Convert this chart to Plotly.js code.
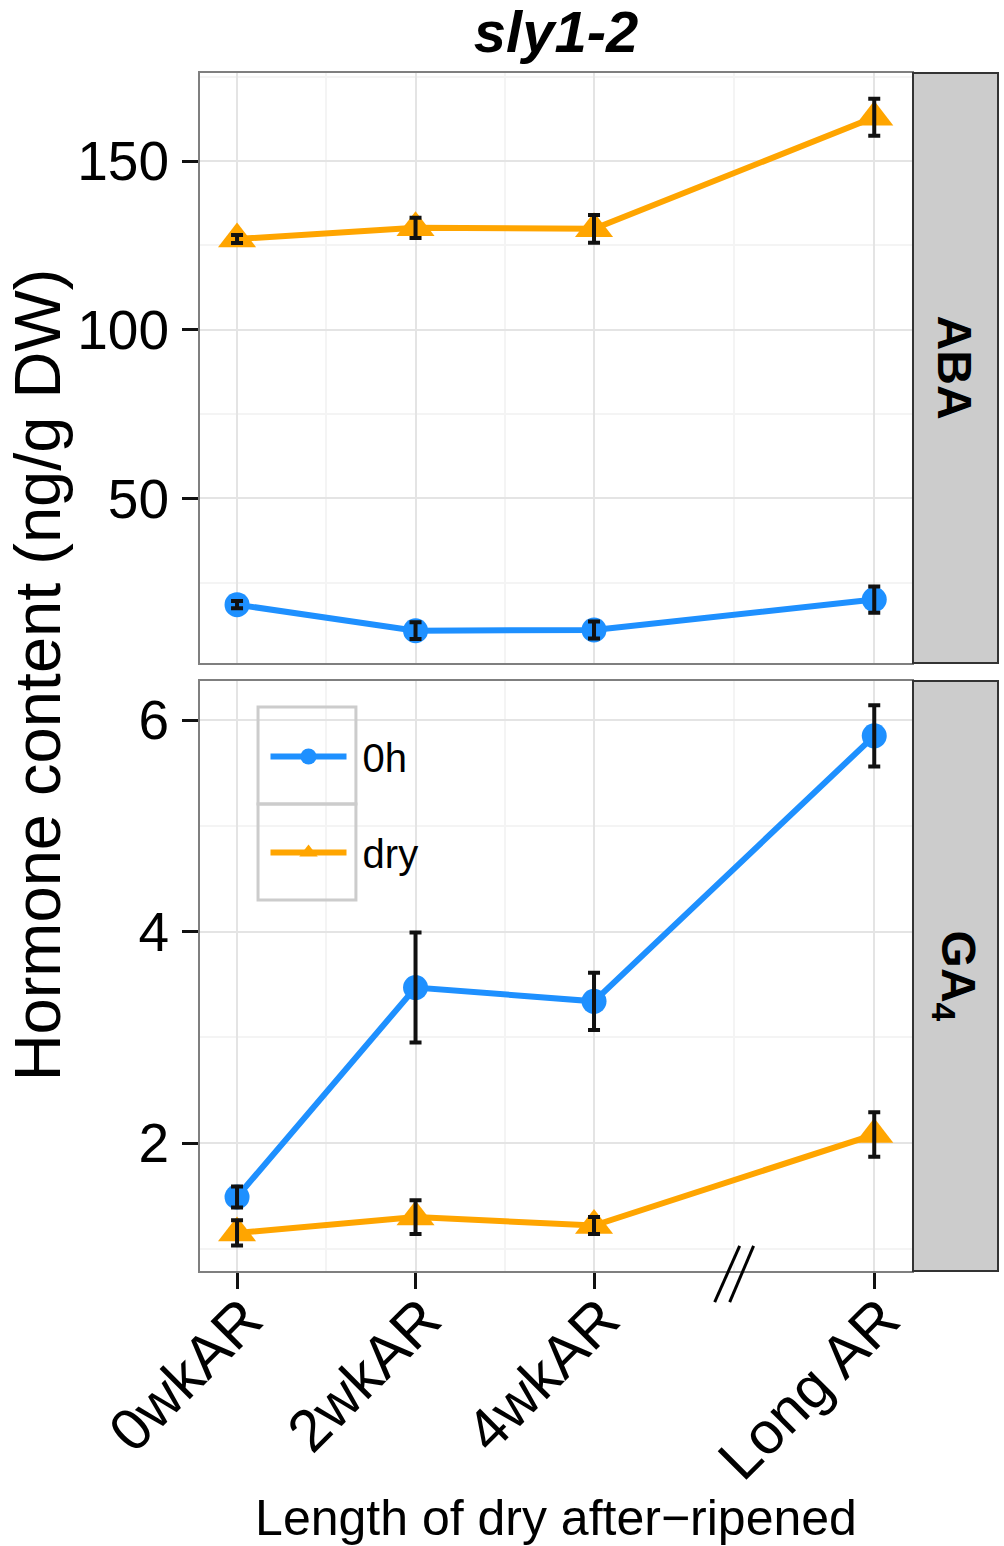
<!DOCTYPE html>
<html>
<head>
<meta charset="utf-8">
<script src="https://cdn.plot.ly/plotly-3.0.1.min.js"></script>
<style>
  html, body { margin: 0; padding: 0; background: #fff; }
  #plot { width: 1004px; height: 1546px; }
</style>
</head>
<body>
<div id="plot"></div>
<script>
// stages on the x axis (Long AR sits past the axis break)
const stages = ["0wkAR", "2wkAR", "4wkAR", "Long AR"];
const stagePos = [0, 2, 4, 7.14];

// ABA (ng/g DW)
const aba0h = [18.5, 10.8, 11.0, 20.0];
const aba0hErr = [1.1, 2.5, 2.5, 3.9];
const abaDry = [126.9, 130.2, 129.9, 163.0];
const abaDryErr = [1.2, 3.0, 4.1, 5.5];

// GA4 (ng/g DW)
const ga0h = [1.49, 3.47, 3.34, 5.85];
const ga0hErr = [0.10, 0.52, 0.27, 0.29];
const gaDry = [1.15, 1.30, 1.22, 2.08];
const gaDryErr = [0.12, 0.16, 0.08, 0.21];

const abaTicks = [50, 100, 150];
const abaMinor = [25, 75, 125, 175];
const gaTicks = [2, 4, 6];
const gaMinor = [1, 3, 5];

const BLUE = "#1E90FF";
const ORANGE = "#FFA500";
const FONT = "Liberation Sans, Arial, sans-serif";
const GRID = "#e4e4e4";
const GRID_MINOR = "#f4f4f4";
const BORDER = "#7f7f7f";

function midpoints(vals) {
  const out = [];
  for (let i = 0; i < vals.length - 1; i++) out.push((vals[i] + vals[i + 1]) / 2);
  return out;
}

function seriesTrace(y, name, color, symbol, size, xa, ya, legend) {
  return {
    x: stagePos, y,
    xaxis: xa, yaxis: ya,
    type: "scatter",
    mode: "lines+markers",
    name: "\u00a0" + name,
    legendgroup: name,
    showlegend: legend,
    line: { color, width: 6 },
    marker: { color, symbol, size },
    hoverinfo: "skip"
  };
}

function errTrace(y, err, xa, ya) {
  return {
    x: stagePos, y,
    xaxis: xa, yaxis: ya,
    type: "scatter",
    mode: "markers",
    marker: { size: 1, opacity: 0 },
    error_y: { type: "data", array: err, visible: true, color: "#111", thickness: 4, width: 6 },
    showlegend: false,
    hoverinfo: "skip"
  };
}

const traces = [
  seriesTrace(aba0h, "0h", BLUE, "circle", 25, "x", "y", false),
  seriesTrace(abaDry, "dry", ORANGE, "triangle-up", 33, "x", "y", false),
  seriesTrace(ga0h, "0h", BLUE, "circle", 25, "x2", "y2", true),
  seriesTrace(gaDry, "dry", ORANGE, "triangle-up", 33, "x2", "y2", true),
  errTrace(aba0h, aba0hErr, "x", "y"),
  errTrace(abaDry, abaDryErr, "x", "y"),
  errTrace(ga0h, ga0hErr, "x2", "y2"),
  errTrace(gaDry, gaDryErr, "x2", "y2")
];

const xMinor = midpoints(stagePos);
const xRange = [-0.415, 7.563];

const baseX = {
  range: xRange,
  tickmode: "array",
  tickvals: stagePos,
  showgrid: true, gridcolor: GRID, gridwidth: 2,
  minor: { tickmode: "array", tickvals: xMinor, showgrid: true, gridcolor: GRID_MINOR, gridwidth: 2, ticks: "" },
  showline: true, mirror: true, linecolor: BORDER, linewidth: 2,
  zeroline: false,
  fixedrange: true
};

function baseY(range, ticks, minor, domain) {
  return {
    domain,
    range,
    tickmode: "array",
    tickvals: ticks,
    ticks: "outside", ticklen: 16, tickwidth: 3, tickcolor: "#111",
    ticklabelstandoff: 2,
    tickfont: { family: FONT, size: 55, color: "#000" },
    showgrid: true, gridcolor: GRID, gridwidth: 2,
    minor: { tickmode: "array", tickvals: minor, showgrid: true, gridcolor: GRID_MINOR, gridwidth: 2, ticks: "" },
    showline: true, mirror: true, linecolor: BORDER, linewidth: 2,
    zeroline: false,
    fixedrange: true
  };
}

// axis break mark "//" between 4wkAR and Long AR
const breakX = (stagePos[2] + stagePos[3]) / 2;
const slashes = [[-0.218, 0.062], [-0.05, 0.218]].map(([a, b]) => ({
  type: "line", xref: "x2", yref: "paper",
  x0: breakX + a, x1: breakX + b, y0: -0.026, y1: 0.021,
  line: { color: "#000", width: 3 }, layer: "above"
}));

function strip(yref) {
  return {
    type: "rect", xref: "paper", yref,
    x0: 1.0014, x1: 1.1208, y0: 0, y1: 1,
    fillcolor: "#cccccc", line: { color: "#333", width: 2 }, layer: "above"
  };
}

function legendBox(y0, y1) {
  return {
    type: "rect", xref: "x2 domain", yref: "y2 domain",
    x0: 0.0815, x1: 0.219, y0, y1,
    fillcolor: "rgba(0,0,0,0)", line: { color: "#cccccc", width: 3 }, layer: "above"
  };
}

const layout = {
  width: 1004,
  height: 1546,
  margin: { l: 200, r: 92, t: 73, b: 275 },
  paper_bgcolor: "#fff",
  plot_bgcolor: "#fff",
  font: { family: FONT, color: "#000" },
  title: {
    text: "<b><i>sly1-2</i></b>",
    font: { family: FONT, size: 58, color: "#000" },
    xref: "paper", x: 0.5, xanchor: "center",
    y: 1 - 32 / 1546, yanchor: "middle"
  },
  xaxis: Object.assign({}, baseX, { anchor: "y", showticklabels: false, ticks: "" }),
  xaxis2: Object.assign({}, baseX, {
    anchor: "y2", matches: "x",
    ticktext: stages,
    tickangle: -45,
    ticks: "outside", ticklen: 16, tickwidth: 3, tickcolor: "#111",
    ticklabelstandoff: -28,
    ticklabelshift: 8,
    tickfont: { family: FONT, size: 59, color: "#000" },
    title: { text: "Length of dry after\u2212ripened", font: { family: FONT, size: 50, color: "#000" }, standoff: 20 }
  }),
  yaxis: baseY([1.2, 176.1], abaTicks, abaMinor, [0.5075, 1]),
  yaxis2: baseY([0.79, 6.369], gaTicks, gaMinor, [0, 0.4925]),
  showlegend: true,
  legend: {
    x: 0.092, y: 0.4566, xanchor: "left", yanchor: "top",
    bgcolor: "rgba(0,0,0,0)", borderwidth: 0,
    font: { family: FONT, size: 40, color: "#000" },
    itemwidth: 76,
    tracegroupgap: 41,
    traceorder: "grouped"
  },
  shapes: [
    strip("y domain"), strip("y2 domain"),
    legendBox(0.7915, 0.956), legendBox(0.629, 0.7915),
    ...slashes
  ],
  annotations: [
    {
      text: "Hormone content (ng/g DW)", textangle: -90,
      xref: "paper", yref: "paper", x: -0.227, y: 0.4975,
      xanchor: "center", yanchor: "middle", showarrow: false, borderpad: 0,
      font: { family: FONT, size: 65, color: "#000" }
    },
    {
      text: "<b>ABA</b>", textangle: 90,
      xref: "paper", yref: "y domain", x: 1.061, y: 0.5,
      xanchor: "center", yanchor: "middle", showarrow: false,
      font: { family: FONT, size: 48, color: "#000" }
    },
    {
      text: "<b>GA<sub>4</sub></b>", textangle: 90,
      xref: "paper", yref: "y2 domain", x: 1.061, y: 0.5,
      xanchor: "center", yanchor: "middle", showarrow: false,
      font: { family: FONT, size: 48, color: "#000" }
    }
  ]
};

Plotly.newPlot("plot", traces, layout, { staticPlot: true, displayModeBar: false });
</script>
</body>
</html>
